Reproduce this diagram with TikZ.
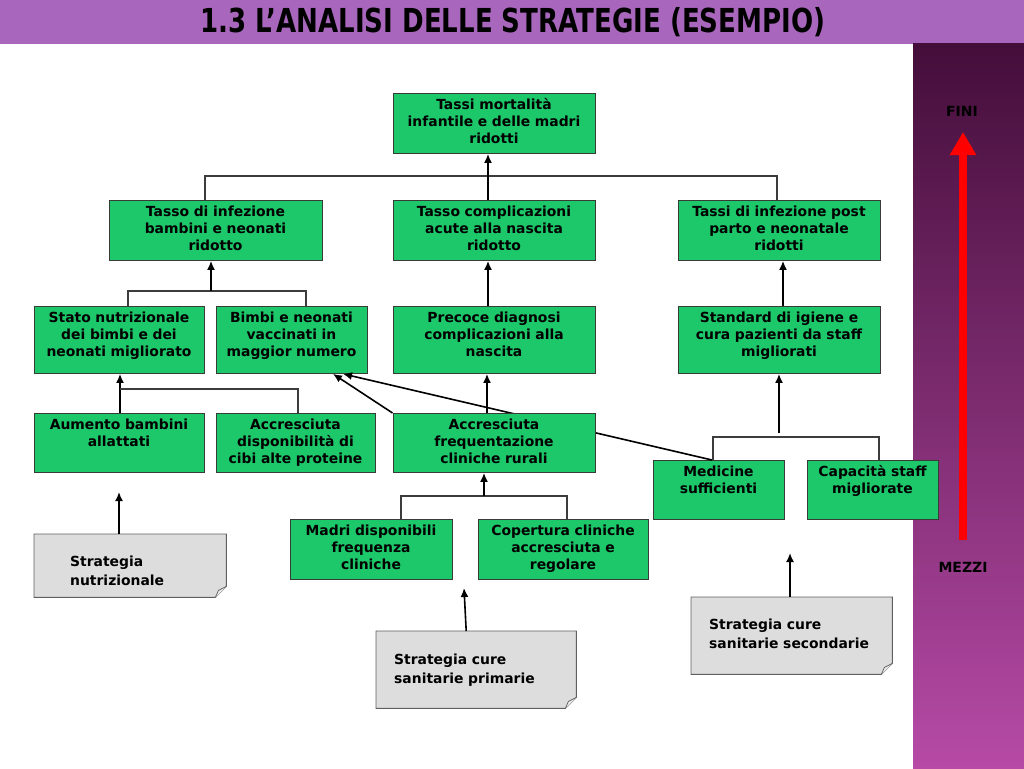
\documentclass[tikz,border=0pt]{standalone}
\usepackage{fontspec}
\setmainfont{DejaVu Sans}
\newfontfamily\titlefont[FakeStretch=0.79]{DejaVu Sans}
\usetikzlibrary{arrows.meta}
\definecolor{boxgreen}{RGB}{28,200,106}
\definecolor{boxline}{RGB}{55,60,55}
\definecolor{notegray}{RGB}{221,221,221}
\definecolor{noteline}{RGB}{95,95,95}
\definecolor{linkgray}{RGB}{60,60,60}
\definecolor{titlebar}{RGB}{168,102,188}
\definecolor{bartop}{RGB}{68,14,58}
\definecolor{barbottom}{RGB}{182,74,166}
\newcommand{\boxfont}{\bfseries\fontsize{13.9}{17}\selectfont}
\newcommand{\notefont}{\bfseries\fontsize{13.9}{19}\selectfont}

\begin{document}
\begin{tikzpicture}[x=1pt,y=-1pt,
  gbox/.style={draw=boxline,line width=0.9pt,fill=boxgreen,anchor=north,align=center,inner xsep=2pt,inner ysep=0pt,text height=16pt,font=\boxfont},
  note/.style={fill=notegray,anchor=north west,align=left,inner ysep=0pt,font=\notefont},
  link/.style={draw=linkgray,line width=1.1pt},
  arr/.style={draw=black,line width=1.6pt,-{Latex[length=9pt,width=8pt]}}]
  \useasboundingbox (0,0) rectangle (1024,768);
  %background
  \fill[titlebar] (0,0) rectangle (1024,44);
  \shade[top color=bartop,bottom color=barbottom] (913,44) rectangle (1024,768);
  \node[font=\titlefont\bfseries\fontsize{33}{36}\selectfont] (title) at (513,22) {1.3 L’ANALISI DELLE STRATEGIE (ESEMPIO)};
  %ends and means
  \node[font=\bfseries\fontsize{14}{16}\selectfont] (ends) at (962,111) {FINI};
  \node[font=\bfseries\fontsize{14}{16}\selectfont] (means) at (963,567) {MEZZI};
  \coordinate (rtop) at (963,132);
  \coordinate (rbot) at (963,540);
  \draw[line width=8pt,red,-{Triangle[length=23pt,width=25pt]}] (rbot) -- (rtop);

  %goal
  \node[gbox,text width=198pt,text depth=44pt] (goal) at (494,93) {Tassi mortalità\\infantile e delle madri\\ridotti};
  %purposes
  \node[gbox,text width=209pt,text depth=44pt] (infez) at (215.5,200) {Tasso di infezione\\bambini e neonati\\ridotto};
  \node[gbox,text width=198pt,text depth=44pt] (compl) at (494,200) {Tasso complicazioni\\acute alla nascita\\ridotto};
  \node[gbox,text width=198pt,text depth=44pt] (postp) at (779,200) {Tassi di infezione post\\parto e neonatale\\ridotti};
  %results
  \node[gbox,text width=166pt,text depth=51pt] (nutri) at (119,306) {Stato nutrizionale\\dei bimbi e dei\\neonati migliorato};
  \node[gbox,text width=147pt,text depth=51pt] (vacc) at (291.5,306) {Bimbi e neonati\\vaccinati in\\maggior numero};
  \node[gbox,text width=198pt,text depth=51pt] (diagn) at (494,306) {Precoce diagnosi\\complicazioni alla\\nascita};
  \node[gbox,text width=198pt,text depth=51pt] (igiene) at (779,306) {Standard di igiene e\\cura pazienti da staff\\migliorati};
  %activities
  \node[gbox,text width=166pt,text depth=43pt] (allatt) at (119,413) {Aumento bambini\\allattati};
  \node[gbox,text width=155pt,text depth=43pt] (cibi) at (295.5,413) {Accresciuta\\disponibilità di\\cibi alte proteine};
  \node[gbox,text width=127pt,text depth=43pt] (medic) at (718.5,460) {Medicine\\sufficienti};
  \node[gbox,text width=127pt,text depth=43pt] (staff) at (872.5,460) {Capacità staff\\migliorate};
  \node[gbox,text width=158pt,text depth=44pt] (madri) at (371,519) {Madri disponibili\\frequenza\\cliniche};
  \node[gbox,text width=166pt,text depth=44pt] (copert) at (563,519) {Copertura cliniche\\accresciuta e\\regolare};
  %strategies
  \node[note,inner xsep=36pt,text width=120pt,text height=32pt,text depth=31pt] (n1) at (34,534) {Strategia\\nutrizionale};
  \node[note,inner xsep=18pt,text width=164pt,text height=33pt,text depth=44pt] (n2) at (376,631) {Strategia cure\\sanitarie primarie};
  \node[note,inner xsep=18pt,text width=165pt,text height=32pt,text depth=45pt] (n3) at (691,597) {Strategia cure\\sanitarie secondarie};
  \foreach \n in {n1,n2,n3}{
    \fill[white] ([xshift=-11pt]\n.south east) -- (\n.south east) -- ([yshift=11pt]\n.south east) -- cycle;
    \draw[noteline,line width=0.9pt] (\n.north west) -- (\n.north east) -- ([yshift=11pt]\n.south east) -- ([xshift=-11pt]\n.south east) -- (\n.south west) -- cycle;
    \draw[noteline,line width=0.7pt,fill=notegray!60!white] ([xshift=-11pt]\n.south east) -- ([xshift=-8pt,yshift=7pt]\n.south east) -- ([yshift=11pt]\n.south east);
  }

  %joints
  \coordinate (j1) at (488,176);
  \coordinate (j2) at (211,291);
  \coordinate (j3) at (120,389);
  \coordinate (j4) at (484,496);
  \coordinate (j5) at (779,437);
  \coordinate (s1) at (119,492);
  \coordinate (s2) at (464,588);
  \coordinate (s3) at (790,553);

  %goal tree
  \draw[link] ([xshift=-10.5pt]infez.north) |- (j1) -| ([xshift=-2pt]postp.north);
  \draw[arr] ([xshift=-6pt]compl.north) -- ([xshift=-6pt]goal.south);
  %purpose trees
  \draw[link] ([xshift=9pt]nutri.north) |- (j2) -| ([xshift=14.5pt]vacc.north);
  \draw[arr] (j2) -- (j2 |- infez.south);
  \draw[arr] ([xshift=-6pt]diagn.north) -- ([xshift=-6pt]compl.south);
  \draw[arr] ([xshift=4pt]igiene.north) -- ([xshift=4pt]postp.south);
  %nutrition
  \draw[arr] ([xshift=1pt]allatt.north) -- ([xshift=1pt]nutri.south);
  \draw[link] (j3) -| ([xshift=2.5pt]cibi.north);
  %medicine behind clinics
  \draw[arr] ([xshift=-6.5pt]medic.north) -- ([xshift=51.5pt]vacc.south);
  \node[gbox,text width=198pt,text depth=43pt] (clin) at (494,413) {Accresciuta\\frequentazione\\cliniche rurali};
  \draw[arr] (clin.north west) -- ([xshift=41.5pt]vacc.south);
  \draw[arr] ([xshift=-7pt]clin.north) -- ([xshift=-7pt]diagn.south);
  %clinics
  \draw[link] ([xshift=30pt]madri.north) |- (j4) -| ([xshift=4pt]copert.north);
  \draw[arr] (j4) -- (j4 |- clin.south);
  %staff
  \draw[link] ([xshift=-5.5pt]medic.north) |- (j5) -| ([xshift=6.5pt]staff.north);
  \draw[arr] ([yshift=4pt]j5) -- (j5 |- igiene.south);
  %strategy arrows
  \draw[arr] (s1 |- n1.north) -- (s1);
  \draw[arr] ([xshift=-10pt]n2.north) -- (s2);
  \draw[arr] (s3 |- n3.north) -- (s3);
\end{tikzpicture}
\end{document}
